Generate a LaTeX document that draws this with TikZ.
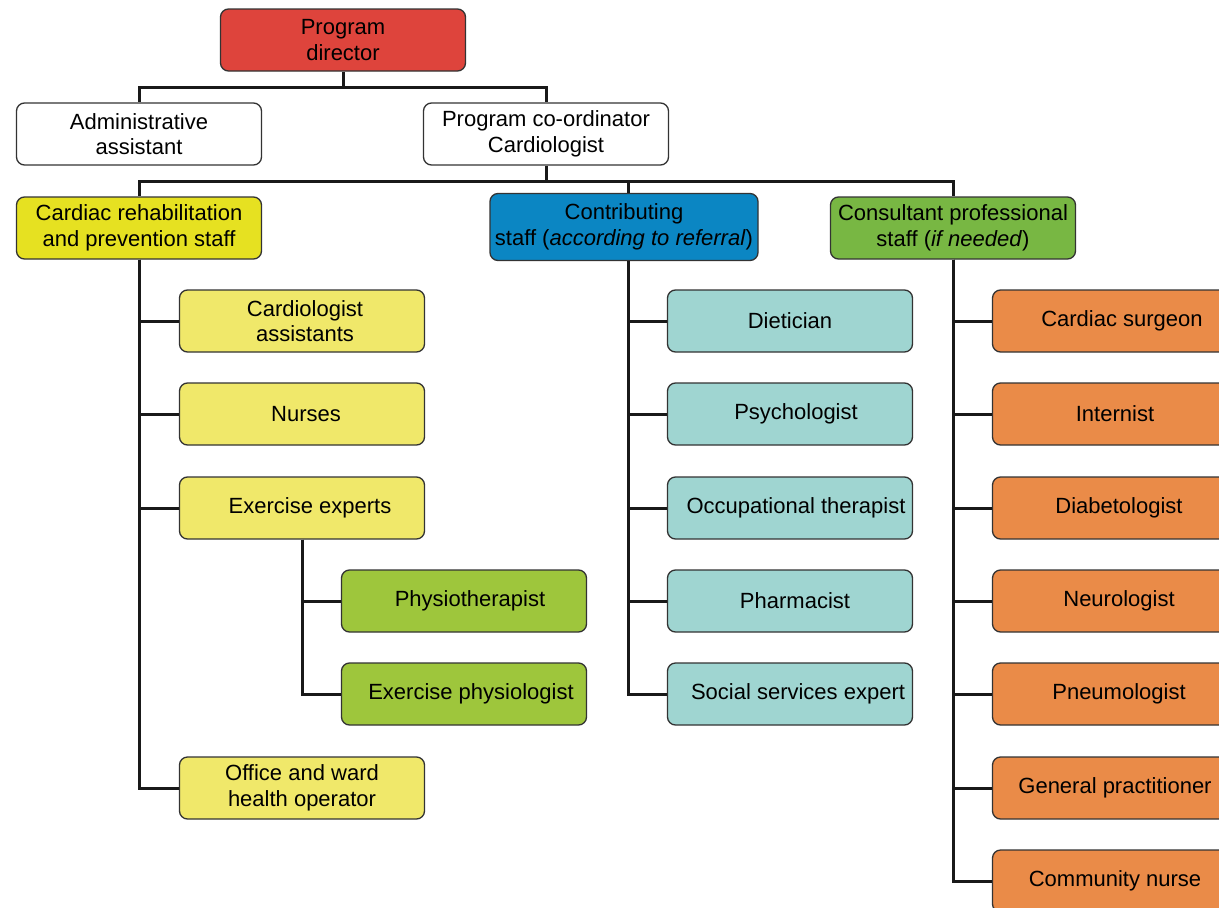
\documentclass[tikz,border=0pt]{standalone}
\usepackage{fontspec}
\setmainfont{Liberation Sans}
\begin{document}
\begin{tikzpicture}[x=1pt,y=-1pt,
  box/.style={draw=black!80, line width=1.3pt, rounded corners=8pt, minimum width=245pt, minimum height=62pt, inner sep=0pt, align=center, font=\fontsize{22}{25.5}\selectfont},
  conn/.style={draw=black!90, line width=3pt},
  ]
\definecolor{cred}{HTML}{DE443C}
\definecolor{cyelh}{HTML}{E6E121}
\definecolor{cblue}{HTML}{0B86C3}
\definecolor{cgrnh}{HTML}{78B743}
\definecolor{cyel}{HTML}{F0E86A}
\definecolor{cgrn}{HTML}{9EC63C}
\definecolor{cteal}{HTML}{9FD5D1}
\definecolor{corg}{HTML}{EA8B48}
\useasboundingbox (0,0) rectangle (1219,908);

\node[box, fill=cred] (dir) at (343,40) {Program\\director};
\node[box, fill=white] (adm) at (139,134) {Administrative\\assistant};
\node[box, fill=white] (crd) at (546,134) {Program co-ordinator\\Cardiologist};

\node[box, fill=cyelh] (crp) at (139,228) {Cardiac rehabilitation\\and prevention staff};
\node[box, fill=cblue, minimum width=268pt, minimum height=67pt] (con) at (624,227) {Contributing\\staff (\textit{according to referral})};
\node[box, fill=cgrnh] (cps) at (953,228) {Consultant professional\\staff (\textit{if needed})};

% yellow
\node[box, fill=cyel] (ca) at (302,321) {\hspace*{6pt}Cardiologist\\\hspace*{6pt}assistants};
\node[box, fill=cyel] (nu) at (302,414) {\hspace*{8pt}Nurses};
\node[box, fill=cyel] (ee) at (302,508) {\hspace*{16pt}Exercise experts};
\node[box, fill=cyel] (ow) at (302,788) {Office and ward\\health operator};
% green
\node[box, fill=cgrn] (ph) at (464,601) {\hspace*{12pt}Physiotherapist};
\node[box, fill=cgrn] (ep) at (464,694) {\hspace*{14pt}Exercise physiologist};
% teal
\node[box, fill=cteal] (di) at (790,321) {Dietician};
\node[box, fill=cteal] (ps) at (790,414) {\hspace*{12pt}Psychologist};
\node[box, fill=cteal] (ot) at (790,508) {\hspace*{12pt}Occupational therapist};
\node[box, fill=cteal] (pa) at (790,601) {\hspace*{10pt}Pharmacist};
\node[box, fill=cteal] (ss) at (790,694) {\hspace*{16pt}Social services expert};
% orange
\node[box, fill=corg] (cs) at (1115,321) {\hspace*{14pt}Cardiac surgeon};
\node[box, fill=corg] (in) at (1115,414) {Internist};
\node[box, fill=corg] (db) at (1115,508) {\hspace*{8pt}Diabetologist};
\node[box, fill=corg] (ne) at (1115,601) {\hspace*{8pt}Neurologist};
\node[box, fill=corg] (pn) at (1115,694) {\hspace*{8pt}Pneumologist};
\node[box, fill=corg] (gp) at (1115,788) {General practitioner};
\node[box, fill=corg] (cn) at (1115,881) {Community nurse};

% connectors
\coordinate (j1) at (343,87);
\coordinate (j2) at (546,181);
\draw[conn] (dir.south) -- (j1) -| (adm.north);
\draw[conn] (j1) -| (crd.north);
\draw[conn] (crd.south) -- (j2) -| (crp.north);
\draw[conn] (j2) -| ([xshift=4pt]con.north);
\draw[conn] (j2) -| (cps.north);

\draw[conn] (crp.south) |- (ca.west);
\draw[conn] (crp.south) |- (nu.west);
\draw[conn] (crp.south) |- (ee.west);
\draw[conn] (crp.south) |- (ow.west);

\draw[conn] (ee.south) |- (ph.west);
\draw[conn] (ee.south) |- (ep.west);

\draw[conn] ([xshift=4pt]con.south) |- (di.west);
\draw[conn] ([xshift=4pt]con.south) |- (ps.west);
\draw[conn] ([xshift=4pt]con.south) |- (ot.west);
\draw[conn] ([xshift=4pt]con.south) |- (pa.west);
\draw[conn] ([xshift=4pt]con.south) |- (ss.west);

\draw[conn] (cps.south) |- (cs.west);
\draw[conn] (cps.south) |- (in.west);
\draw[conn] (cps.south) |- (db.west);
\draw[conn] (cps.south) |- (ne.west);
\draw[conn] (cps.south) |- (pn.west);
\draw[conn] (cps.south) |- (gp.west);
\draw[conn] (cps.south) |- (cn.west);
\end{tikzpicture}
\end{document}
